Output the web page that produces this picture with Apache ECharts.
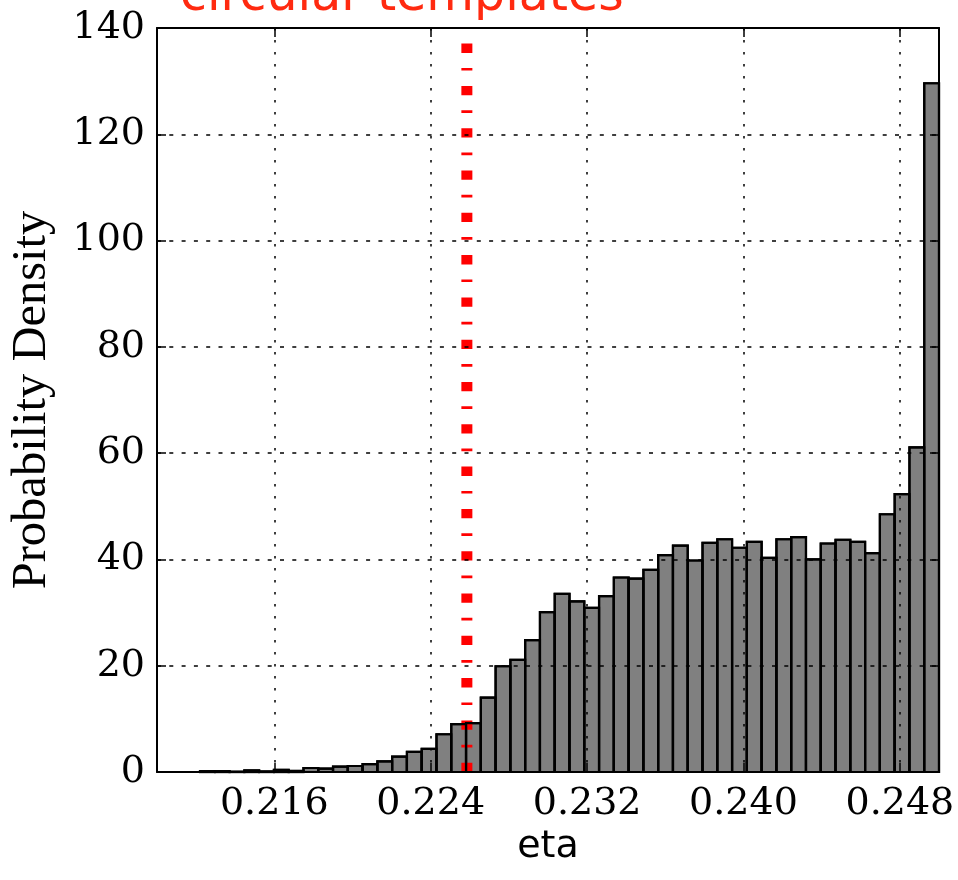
<!DOCTYPE html>
<html>
<head>
<meta charset="utf-8">
<script src="https://cdn.jsdelivr.net/npm/echarts@6/dist/echarts.min.js"></script>
<style>
  html, body { margin: 0; padding: 0; background: #ffffff; }
  #chart { width: 958px; height: 880px; }
</style>
</head>
<body>
<div id="chart"></div>
<script>
// Posterior samples of eta, normalised histogram (50 bins)
const chartTitle = 'circular templates';
const etaTicks = [0.216, 0.224, 0.232, 0.240, 0.248];
const densityTicks = [0, 20, 40, 60, 80, 100, 120, 140];
const etaRange = [0.21, 0.25];
const histRange = [0.2122, 0.25];
const density = [
  0.15, 0.15, 0.05, 0.3, 0.1, 0.4, 0.2, 0.75, 0.63, 1.0,
  1.13, 1.5, 2.0, 2.9, 3.77, 4.34, 7.1, 9.0, 9.2, 14.0,
  19.9, 21.1, 24.8, 30.1, 33.5, 32.1, 30.9, 33.1, 36.6, 36.4,
  38.05, 40.8, 42.6, 39.8, 43.1, 43.8, 42.2, 43.3, 40.3, 43.8,
  44.2, 40.0, 43.0, 43.7, 43.3, 41.2, 48.5, 52.3, 61.1, 129.6
];
// injected (true) value of eta
const trueEta = 0.22585;

// bin edges follow the histogram range split into equal bins
const nBins = density.length;
const binWidth = (histRange[1] - histRange[0]) / nBins;
const bins = density.map((h, i) => [
  histRange[0] + i * binWidth,
  histRange[0] + (i + 1) * binWidth,
  h
]);

function barRenderer(fill) {
  return function (params, api) {
    const base = api.coord([api.value(0), 0]);
    const top = api.coord([api.value(1), api.value(2)]);
    return {
      type: 'rect',
      shape: { x: base[0], y: top[1], width: top[0] - base[0], height: base[1] - top[1] },
      style: { fill: fill, stroke: '#000000', lineWidth: 2.2 }
    };
  };
}

const yMin = densityTicks[0];
const yMax = densityTicks[densityTicks.length - 1];

const frameLine = { show: true, onZero: false, lineStyle: { color: '#000000', width: 2 } };
const innerTick = (values) => ({
  show: true, inside: true, length: 9,
  lineStyle: { color: '#000000', width: 1.5 },
  customValues: values
});

const chart = echarts.init(document.getElementById('chart'), null, { renderer: 'canvas' });

chart.setOption({
  animation: false,
  backgroundColor: '#ffffff',
  title: {
    text: chartTitle,
    left: 175,
    top: -32,
    textStyle: { color: '#ff2a10', fontFamily: 'DejaVu Sans', fontSize: 49, fontWeight: 'normal' }
  },
  grid: { left: 157, right: 19, top: 28, bottom: 108, show: false },
  xAxis: [
    {
      type: 'value', position: 'bottom', min: etaRange[0], max: etaRange[1], z: 4,
      axisLine: frameLine,
      axisTick: innerTick(etaTicks),
      axisLabel: {
        customValues: etaTicks,
        formatter: (v) => v.toFixed(3),
        fontFamily: 'DejaVu Serif', fontSize: 38, color: '#000000', margin: 13
      },
      splitLine: { show: true, lineStyle: { color: '#000000', width: 1.5, type: [2.5, 9.5] } },
      name: 'eta', nameLocation: 'middle', nameGap: 45,
      nameTextStyle: { fontFamily: 'DejaVu Sans', fontSize: 38, color: '#000000' }
    },
    {
      type: 'value', position: 'top', min: etaRange[0], max: etaRange[1], z: 4,
      axisLine: frameLine,
      axisTick: innerTick(etaTicks),
      axisLabel: { show: false, customValues: etaTicks },
      splitLine: { show: false }
    }
  ],
  yAxis: [
    {
      type: 'value', position: 'left', min: yMin, max: yMax, interval: 20, z: 4,
      axisLine: frameLine,
      axisTick: innerTick(densityTicks),
      axisLabel: { fontFamily: 'DejaVu Serif', fontSize: 38, color: '#000000', margin: 12 },
      splitLine: { show: true, lineStyle: { color: '#000000', width: 1.5, type: [4, 8.3] } },
      name: 'Probability Density', nameLocation: 'middle', nameGap: 100,
      nameTextStyle: { fontFamily: 'Liberation Serif', fontSize: 48.5, color: '#000000' }
    },
    {
      type: 'value', position: 'right', min: yMin, max: yMax, interval: 20, z: 4,
      axisLine: frameLine,
      axisTick: innerTick(densityTicks),
      axisLabel: { show: false },
      splitLine: { show: false }
    }
  ],
  series: [
    {
      name: 'histogram', type: 'custom', xAxisIndex: 0, yAxisIndex: 0, z: 1,
      renderItem: barRenderer('#808080'),
      encode: { x: [0, 1], y: 2 },
      data: bins, silent: true
    },
    {
      name: 'injected eta', type: 'line', xAxisIndex: 0, yAxisIndex: 0, z: 2,
      data: [[trueEta, yMin], [trueEta, yMax]],
      symbol: 'none', silent: true,
      lineStyle: { color: '#ff0000', width: 11, type: [9.3, 15.3, 2.7, 15], cap: 'butt' }
    },
    {
      name: 'histogram outline', type: 'custom', xAxisIndex: 0, yAxisIndex: 0, z: 3,
      renderItem: barRenderer('none'),
      encode: { x: [0, 1], y: 2 },
      data: bins, silent: true
    }
  ]
});
</script>
</body>
</html>
